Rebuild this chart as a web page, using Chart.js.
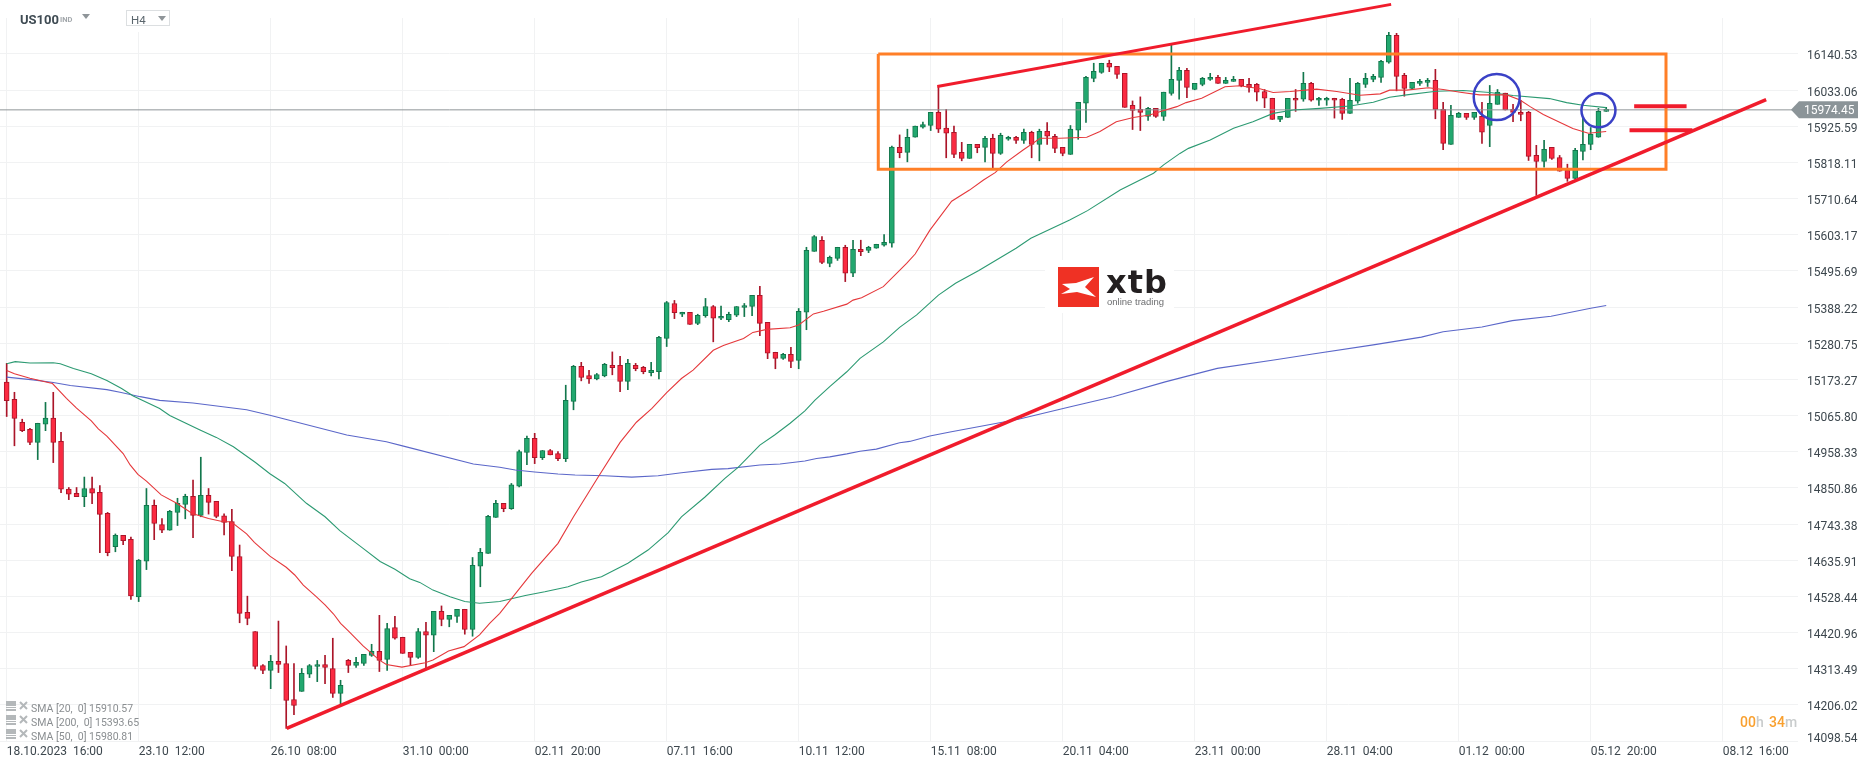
<!DOCTYPE html>
<html>
<head>
<meta charset="utf-8">
<title>US100 H4</title>
<script src="https://cdn.jsdelivr.net/npm/chart.js@4"></script>
<style>
  html, body { margin: 0; padding: 0; background: #fff; }
  canvas { display: block; }
</style>
</head>
<body>
<canvas id="grafico" width="1866" height="767"></canvas>
<script>
// candles, one per 4 hours
var opens = [
  15165,15114,15046,15025,14986,15040,15058,14989,14847,14835,
  14825,14849,14838,14775,14676,14710,14698,14527,14633,14799,
  14742,14725,14778,14802,14826,14769,14829,14811,14768,14751,
  14647,14481,14424,14323,14308,14335,14329,14222,14246,14297,
  14320,14326,14314,14240,14338,14323,14329,14353,14365,14341,
  14436,14407,14362,14347,14424,14413,14484,14460,14469,14490,
  14430,14618,14656,14763,14805,14789,14856,14956,14998,14941,
  14962,14953,14938,15108,15212,15185,15175,15184,15215,15215,
  15167,15215,15209,15193,15196,15295,15399,15367,15373,15340,
  15363,15390,15355,15351,15364,15387,15390,15423,15343,15254,
  15236,15248,15230,15373,15554,15587,15518,15533,15566,15489,
  15560,15557,15563,15572,15578,15863,15848,15893,15923,15928,
  15967,15920,15908,15848,15830,15872,15863,15890,15845,15887,
  15893,15884,15908,15872,15911,15896,15863,15842,15914,15994,
  16068,16086,16113,16104,16083,15988,15976,15955,15979,15955,
  16023,16062,16092,16035,16050,16065,16071,16053,16059,16065,
  16050,16050,16029,16009,15946,15952,16009,16006,16053,16003,
  16003,16009,16006,15964,16000,16050,16065,16071,16116,16196,
  16077,16038,16053,16056,16062,15976,15872,15952,15964,15952,
  15955,15928,15991,16024,15976,15967,15967,15839,15821,15863,
  15833,15795,15771,15851,15872,15893,15970
];
var highs = [
  15221,15135,15055,15028,15043,15105,15135,15016,14852,14852,
  14883,14883,14858,14778,14714,14710,14705,14638,14849,14815,
  14760,14784,14820,14832,14874,14942,14849,14811,14774,14787,
  14681,14529,14424,14326,14353,14455,14381,14329,14314,14326,
  14338,14353,14404,14279,14341,14347,14356,14386,14472,14448,
  14469,14407,14362,14433,14451,14484,14500,14472,14490,14490,
  14644,14671,14769,14814,14805,14864,14963,15005,15013,14962,
  14965,14959,15156,15215,15224,15200,15191,15221,15255,15242,
  15233,15221,15212,15224,15301,15405,15408,15373,15373,15367,
  15414,15393,15391,15373,15390,15399,15423,15450,15343,15254,
  15251,15269,15384,15566,15601,15598,15540,15566,15572,15587,
  15587,15569,15575,15604,15867,15900,15917,15926,15938,15967,
  16044,15976,15926,15878,15872,15872,15896,15902,15905,15896,
  15896,15917,15911,15917,15937,15902,15863,15928,15997,16074,
  16113,16113,16122,16104,16083,16001,16013,15982,15979,16027,
  16169,16101,16098,16053,16071,16083,16077,16071,16074,16065,
  16068,16053,16035,16009,15955,16009,16035,16086,16056,16012,
  16012,16009,16009,16068,16056,16083,16080,16122,16205,16202,
  16083,16056,16065,16068,16095,15997,15988,15967,15964,15967,
  15997,16047,16035,16024,15991,16003,15970,15869,15884,15863,
  15839,15813,15860,15952,15922,15979,15982
];
var lows = [
  15063,14976,15018,14979,14935,15021,14926,14837,14816,14825,
  14795,14804,14658,14649,14661,14682,14519,14513,14608,14697,
  14718,14725,14739,14759,14703,14765,14773,14762,14711,14605,
  14450,14444,14313,14299,14254,14302,14136,14177,14246,14287,
  14275,14269,14228,14206,14302,14317,14323,14350,14305,14308,
  14401,14359,14323,14344,14314,14364,14441,14438,14451,14416,
  14410,14557,14656,14763,14780,14787,14854,14920,14923,14935,
  14949,14932,14929,15083,15169,15161,15172,15181,15187,15137,
  15143,15199,15190,15184,15175,15271,15354,15360,15337,15336,
  15358,15285,15351,15345,15360,15360,15363,15303,15235,15205,
  15233,15208,15205,15321,15554,15517,15508,15527,15464,15479,
  15541,15550,15563,15569,15566,15832,15820,15893,15920,15913,
  15907,15832,15832,15823,15830,15847,15820,15801,15842,15884,
  15875,15875,15832,15823,15872,15847,15838,15842,15887,15937,
  16058,16083,16088,16068,15982,15916,15913,15943,15952,15943,
  16018,16006,16011,16034,16046,16062,16053,16053,16059,16043,
  16027,16001,15981,15946,15939,15952,15970,16000,16000,15988,
  15988,15950,15946,15964,15994,16041,16058,16056,16113,16031,
  16015,16035,16047,16044,15948,15856,15872,15952,15946,15946,
  15875,15865,15991,15974,15939,15942,15824,15720,15804,15827,
  15792,15762,15768,15826,15856,15893,15970
];
var closes = [
  15110,15057,15021,14986,15043,15058,14986,14847,14832,14825,
  14849,14835,14772,14658,14710,14694,14530,14636,14799,14745,
  14725,14781,14805,14826,14769,14829,14808,14766,14748,14647,
  14478,14463,14320,14308,14335,14326,14219,14204,14300,14323,
  14326,14317,14240,14264,14323,14332,14356,14365,14338,14433,
  14404,14359,14347,14424,14413,14484,14460,14472,14490,14430,
  14621,14659,14766,14805,14789,14860,14959,14998,14941,14962,
  14949,14938,15111,15212,15179,15175,15188,15218,15208,15167,
  15221,15205,15196,15200,15298,15402,15372,15373,15337,15364,
  15390,15355,15361,15367,15390,15393,15423,15340,15251,15236,
  15248,15227,15376,15557,15598,15521,15536,15566,15489,15560,
  15553,15566,15575,15581,15864,15847,15893,15926,15931,15967,
  15917,15905,15842,15830,15872,15862,15890,15845,15899,15893,
  15884,15908,15872,15911,15896,15860,15845,15917,15997,16071,
  16089,16113,16101,16080,15982,15973,15967,15979,15955,16027,
  16065,16092,16041,16053,16068,16071,16053,16062,16065,16046,
  16041,16027,16009,15946,15955,16009,16003,16053,16003,16009,
  16009,16003,15964,16003,16053,16068,16074,16119,16196,16074,
  16038,16056,16059,16062,15976,15875,15958,15964,15952,15967,
  15908,15994,16027,15974,15967,15961,15836,15821,15857,15830,
  15792,15771,15854,15872,15902,15970,15976
];

// moving averages: candle index and value, read where the line bends
var sma20Idx = [0,1,3,5.9,7.7,9,10.9,11.8,12.9,15,15.9,16.9,18,19.9,21.9,23.9,26,27.9,28.9,30.9,31.9,33.9,36,37.1,38.2,39.9,41,42.1,43,44,45.9,48,48.9,50.9,53.9,54.9,56.9,58.9,60.9,62.2,63.5,67.6,71,73,76.2,79,81.1,83.1,85,86.9,88.4,91,92.3,94.9,96.1,97.9,100.9,102,103.9,105.2,108.2,109,110.1,112.9,115.9,117,118.9,121.7,124,125.8,127.3,128.8,130.9,133.1,135.6,139.1,140.8,142.9,145.1,147.2,148.5,150.7,151.9,153.9,156.9,158.8,161.4,163.1,165.3,168.7,171.3,174.3,176.9,178.1,180.3,183.1,185,187.2,189.7,193.2,194.9,196.2,197.9,200,201.7,203.7,206];
var sma20Val = [15200,15190,15177,15161,15117,15088,15050,15026,15005,14953,14919,14891,14871,14830,14805,14775,14760,14750,14750,14714,14689,14648,14615,14592,14562,14527,14503,14476,14448,14426,14381,14339,14326,14318,14331,14339,14366,14379,14414,14448,14478,14597,14686,14765,14884,14986,15046,15087,15134,15176,15201,15260,15274,15295,15313,15322,15327,15335,15368,15376,15397,15409,15416,15449,15518,15546,15617,15703,15736,15766,15788,15820,15855,15890,15890,15893,15910,15939,15952,15959,15969,15984,15996,16009,16043,16046,16037,16026,16029,16036,16029,16018,16022,16033,16033,16040,16035,16027,16019,16019,16004,15984,15961,15938,15919,15905,15910];

var sma50Idx = [0,1.1,3,6,6.9,8.6,10.9,12.9,14.8,16.3,19.7,21,24.9,27,29.2,32,33.9,35.8,38.6,41,42.9,45.9,48.1,50,51.9,53.2,54.9,57.1,59,60.9,63.5,66.8,69.3,72.3,74,76.6,80,82.6,85.2,86.9,89.9,92.5,94.2,97,98.9,100.9,102.8,104.1,106,108.2,109.9,112.9,115,117.2,120,122.2,125.2,130,131.9,136.9,139.2,143.4,147.7,149,151.1,152.2,155,158,160.5,163.1,165.7,169.1,173,176,178.1,180.3,184.1,187.6,191,194,198.7,200.9,203,206];
var sma50Val = [15220,15226,15222,15223,15220,15206,15190,15170,15146,15124,15087,15066,15023,15001,14973,14927,14893,14864,14805,14765,14724,14671,14632,14609,14581,14570,14547,14527,14513,14508,14513,14531,14542,14557,14571,14587,14627,14666,14718,14765,14823,14879,14912,14978,15008,15043,15080,15112,15152,15196,15236,15285,15328,15365,15424,15459,15497,15563,15593,15647,15675,15736,15786,15811,15845,15860,15885,15920,15939,15964,15974,15979,15986,15997,16012,16019,16030,16032,16026,16017,16008,15996,15988,15981];

var sma200Idx = [0,3.4,6,8.2,12.9,14.6,17.2,19.7,24,30.9,33.9,43.8,48.9,51.1,60.1,63.5,65.5,68,71,73.2,77,80.5,83.9,86.9,90.8,92.9,97,99.6,102.8,104.3,106,108.2,109.9,112,115,116.3,118.9,121.5,130.3,137,142.5,149.2,155.9,163.2,168.2,176,182.2,185,190,193.9,198.9,204,206];
var sma200Val = [15180,15172,15164,15155,15143,15135,15122,15111,15103,15083,15067,15008,14988,14975,14922,14912,14904,14898,14892,14889,14887,14883,14887,14896,14906,14908,14919,14922,14931,14938,14943,14952,14960,14966,14985,14989,15005,15017,15055,15092,15122,15166,15206,15231,15249,15276,15299,15315,15329,15348,15361,15385,15393];

// hand drawn lines on the picture, in candle index and price
var trendUpIdx = [36.06, 226.6];
var trendUpVal = [14136, 16005];
var trendTopIdx = [119.85, 178.3];
var trendTopVal = [16044, 16288];
var levelHighIdx = [209.6, 216.35];
var levelHighVal = [15985, 15985];
var levelLowIdx = [209, 217.1];
var levelLowVal = [15914, 15914];
var boxIdx = [112.25, 213.7, 213.7, 112.25, 112.25];
var boxVal = [16140.53, 16140.53, 15797.8, 15797.8, 16140.53];
var circleIdx = [191.9, 205];
var circleVal = [16012.7, 15973.2];
var circleRadius = [23, 17];

var lastPrice = 15974.45;
var priceTicks = [16140.53,16033.06,15925.59,15818.11,15710.64,15603.17,15495.69,15388.22,15280.75,15173.27,15065.80,14958.33,14850.86,14743.38,14635.91,14528.44,14420.96,14313.49,14206.02,14098.54];
var timeTicks = [0,17,34,51,68,85,102,119,136,153,170,187,204,221];
var timeLabels = ["18.10.2023  16:00","23.10  12:00","26.10  08:00","31.10  00:00","02.11  20:00","07.11  16:00","10.11  12:00","15.11  08:00","20.11  04:00","23.11  00:00","28.11  04:00","01.12  00:00","05.12  20:00","08.12  16:00"];
var legendNames = ["SMA [20,  0] 15910.57","SMA [200,  0] 15393.65","SMA [50,  0] 15980.81"];

var GREEN = "#22a86f", GREEN_DARK = "#12774c";
var RED = "#fb2a41", RED_DARK = "#ab1529";
var TEXT = "#3d474e";

function isUp(i) { return closes[i] >= opens[i]; }

function zipLine(xs, ys) {
  return xs.map(function (x, i) { return { x: x, y: ys[i] }; });
}

function lineSet(xs, ys, color, width, order) {
  return {
    type: "line",
    data: zipLine(xs, ys),
    borderColor: color,
    borderWidth: width,
    pointRadius: 0,
    tension: 0,
    clip: false,
    order: order
  };
}

var wicks = {
  type: "bar",
  data: opens.map(function (o, i) { return { x: i, y: [lows[i], highs[i]] }; }),
  backgroundColor: opens.map(function (o, i) { return isUp(i) ? GREEN_DARK : RED_DARK; }),
  barThickness: 1,
  grouped: false,
  order: 20
};

var bodies = {
  type: "bar",
  data: opens.map(function (o, i) { return { x: i, y: [Math.min(o, closes[i]), Math.max(o, closes[i])] }; }),
  backgroundColor: opens.map(function (o, i) { return isUp(i) ? GREEN : RED; }),
  borderColor: opens.map(function (o, i) { return isUp(i) ? GREEN_DARK : RED_DARK; }),
  borderWidth: 1,
  borderSkipped: false,
  barThickness: 5,
  grouped: false,
  order: 19
};

var circles = {
  type: "line",
  data: zipLine(circleIdx, circleVal),
  showLine: false,
  pointStyle: "circle",
  pointRadius: circleRadius,
  pointBackgroundColor: "rgba(0,0,0,0)",
  pointBorderColor: "#3a41c6",
  pointBorderWidth: 2.5,
  clip: false,
  order: 1
};

// everything around the plot that is not an axis: header, legend, price tag, logo
function text(ctx, str, x, y, font, color, align) {
  ctx.font = font;
  ctx.fillStyle = color;
  ctx.textAlign = align || "left";
  ctx.textBaseline = "alphabetic";
  ctx.fillText(str, x, y);
}

function triangle(ctx, x, y, w, h, color) {
  ctx.fillStyle = color;
  ctx.beginPath();
  ctx.moveTo(x - w / 2, y);
  ctx.lineTo(x + w / 2, y);
  ctx.lineTo(x, y + h);
  ctx.closePath();
  ctx.fill();
}

function drawHeader(ctx) {
  text(ctx, "US100", 20, 24, "bold 13px Roboto", "#3f4b53");
  text(ctx, "IND", 60, 22, "bold 7.5px Roboto", "#a2a7ab");
  triangle(ctx, 86, 14, 8, 5, "#8f9599");
  ctx.fillStyle = "#fff";
  ctx.fillRect(126, 10, 44, 22);
  ctx.strokeStyle = "#dcdfe1";
  ctx.lineWidth = 1;
  ctx.strokeRect(126.5, 10.5, 43, 15);
  text(ctx, "H4", 131, 24, "11.5px Roboto", "#5b666d");
  triangle(ctx, 162, 16, 8, 5, "#8f9599");
}

function drawLegend(ctx) {
  var rows = [708, 722, 736];
  rows.forEach(function (y, i) {
    ctx.fillStyle = "#b4b8ba";
    ctx.fillRect(6, y - 7, 10, 5);
    ctx.fillRect(6, y - 1, 10, 1);
    ctx.fillRect(6, y + 1, 10, 2);
    ctx.strokeStyle = "#b4b8ba";
    ctx.lineWidth = 2;
    ctx.beginPath();
    ctx.moveTo(20, y - 6);
    ctx.lineTo(27, y + 1);
    ctx.moveTo(27, y - 6);
    ctx.lineTo(20, y + 1);
    ctx.stroke();
    text(ctx, legendNames[i], 31, y + 4, "10.5px Roboto", "#8a8e91");
  });
}

function drawCountdown(ctx) {
  var font = "500 14px Roboto";
  text(ctx, "00", 1740, 727, font, "#f9a02f");
  text(ctx, "h", 1756, 727, font, "#c9cccd");
  text(ctx, "34", 1769, 727, font, "#f9a02f");
  text(ctx, "m", 1785, 727, font, "#c9cccd");
}

function drawPriceTag(ctx, chart) {
  var y = chart.scales.y.getPixelForValue(lastPrice);
  ctx.fillStyle = "#8b9498";
  ctx.beginPath();
  ctx.moveTo(1791, y);
  ctx.lineTo(1799, y - 8.5);
  ctx.lineTo(1858, y - 8.5);
  ctx.lineTo(1858, y + 8.5);
  ctx.lineTo(1799, y + 8.5);
  ctx.closePath();
  ctx.fill();
  ctx.textBaseline = "middle";
  ctx.font = "12px Roboto";
  ctx.fillStyle = "#fff";
  ctx.textAlign = "left";
  ctx.fillText(lastPrice.toFixed(2), 1804, y + 1);
}

function drawLogo(ctx) {
  ctx.fillStyle = "#fff";
  ctx.fillRect(1045, 260, 129, 53);
  ctx.fillStyle = "#ef3124";
  ctx.fillRect(1058, 267, 41, 40);
  ctx.fillStyle = "#fff";
  ctx.beginPath();
  ctx.moveTo(1062, 284);
  ctx.lineTo(1076, 283);
  ctx.lineTo(1094, 277);
  ctx.lineTo(1085, 287);
  ctx.lineTo(1096, 297);
  ctx.lineTo(1077, 292);
  ctx.lineTo(1061, 294);
  ctx.lineTo(1070, 289);
  ctx.closePath();
  ctx.fill();
  ctx.letterSpacing = "1px";
  text(ctx, "xtb", 1106, 293, "bold 32px 'DejaVu Sans'", "#231f20");
  ctx.letterSpacing = "0px";
  text(ctx, "online trading", 1107, 305, "9.5px 'Liberation Sans'", "#6d6e70");
}

// time labels start at their grid line; the axis would squeeze the plot to do that itself
function drawTimeLabels(ctx, chart) {
  timeTicks.forEach(function (t, i) {
    text(ctx, timeLabels[i], chart.scales.x.getPixelForValue(t), 755, "12px Roboto", TEXT);
  });
}

var overlay = {
  id: "overlay",
  afterDraw: function (chart) {
    var ctx = chart.ctx;
    ctx.save();
    drawLogo(ctx);
    drawHeader(ctx);
    drawLegend(ctx);
    drawCountdown(ctx);
    drawPriceTag(ctx, chart);
    drawTimeLabels(ctx, chart);
    // the lowest price label sits a little above its grid line
    text(ctx, priceTicks[priceTicks.length - 1].toFixed(2), 1807, 741.5, "12px Roboto", TEXT);
    ctx.restore();
  }
};

Chart.defaults.font.family = "Roboto";
Chart.defaults.font.size = 12;

var grafico = new Chart(document.getElementById("grafico"), {
  data: {
    datasets: [
      wicks,
      bodies,
      lineSet([-0.86, 230.7], [lastPrice, lastPrice], "#8f9598", 1, 15),
      lineSet(sma200Idx, sma200Val, "#5b67c9", 1.1, 10),
      lineSet(sma50Idx, sma50Val, "#2c9a72", 1.1, 9),
      lineSet(sma20Idx, sma20Val, "#e5383b", 1.1, 8),
      lineSet(trendUpIdx, trendUpVal, "#f01c2c", 3.5, 2),
      lineSet(trendTopIdx, trendTopVal, "#f01c2c", 3, 2),
      lineSet(levelHighIdx, levelHighVal, "#f01c2c", 4, 2),
      lineSet(levelLowIdx, levelLowVal, "#f01c2c", 4, 2),
      lineSet(boxIdx, boxVal, "#ff7f27", 3, 3),
      circles
    ]
  },
  options: {
    responsive: false,
    animation: false,
    events: [],
    // the big circle markers would otherwise add their radius around the plot
    layout: { autoPadding: false, padding: { top: 18, left: 0, right: 0, bottom: 0 } },
    plugins: { legend: { display: false }, tooltip: { enabled: false } },
    scales: {
      x: {
        type: "linear",
        min: -0.86,
        max: 230.7,
        offset: false, // bars switch this on by default
        afterBuildTicks: function (scale) {
          scale.ticks = timeTicks.map(function (v) { return { value: v }; });
        },
        afterFit: function (scale) { scale.height = 26; },
        grid: { color: "#f1f2f3", drawTicks: false, offset: false },
        border: { display: false },
        ticks: { display: false }
      },
      y: {
        type: "linear",
        position: "right",
        min: 14098.54,
        max: 16247.5,
        afterBuildTicks: function (scale) {
          scale.ticks = priceTicks.map(function (v) { return { value: v }; });
        },
        afterFit: function (scale) { scale.width = 68; },
        grid: { color: "#f1f2f3", drawTicks: false },
        border: { display: false },
        ticks: {
          autoSkip: false,
          padding: 9,
          labelOffset: 2.5,
          color: TEXT,
          callback: function (v) { return v === 14098.54 ? "" : v.toFixed(2); }
        }
      }
    }
  },
  plugins: [overlay]
});
</script>
</body>
</html>
